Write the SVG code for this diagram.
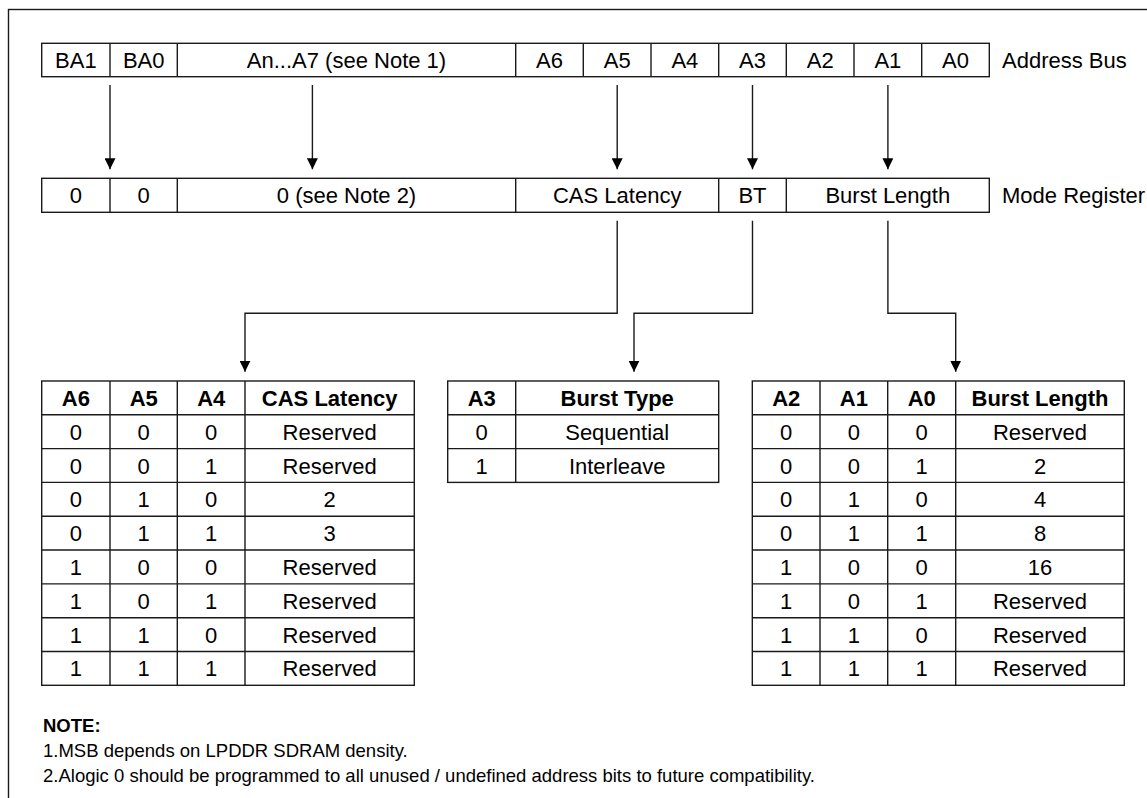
<svg xmlns="http://www.w3.org/2000/svg" width="1147" height="798" viewBox="0 0 1147 798">
<style>
.ln{fill:none;stroke:#1a1a1a;stroke-width:1.4}
.cell{fill:#fff;stroke:#1a1a1a;stroke-width:1.4}
.t{font-family:"Liberation Sans",Arial,Helvetica,sans-serif;font-size:22px;fill:#000;text-anchor:middle}
.b{font-weight:bold}
.lab{font-family:"Liberation Sans",Arial,Helvetica,sans-serif;font-size:22px;fill:#000}
.note{font-family:"Liberation Sans",Arial,Helvetica,sans-serif;font-size:18.5px;fill:#000}
</style>
<defs>
<marker id="ah" markerUnits="userSpaceOnUse" markerWidth="11" markerHeight="11" refX="11" refY="5.5" orient="auto" viewBox="0 0 11 11">
<path d="M0,0 L11,5.5 L0,11 z" fill="#000"/>
</marker>
</defs>
<rect x="0" y="0" width="1147" height="798" fill="#fff"/>
<rect x="8.5" y="9.5" width="1160" height="820" class="ln"/>

<g id="address-bus">
<rect x="41.7" y="43.3" width="947.6" height="33.4" class="cell"/>
<path class="ln" d="M110,43.3V76.7M177.3,43.3V76.7M515.7,43.3V76.7M583.3,43.3V76.7M651,43.3V76.7M718.7,43.3V76.7M786.3,43.3V76.7M854,43.3V76.7M921.7,43.3V76.7"/>
<text class="t" x="75.9" y="68">BA1</text>
<text class="t" x="143.7" y="68">BA0</text>
<text class="t" x="346.5" y="68">An...A7 (see Note 1)</text>
<text class="t" x="549.5" y="68">A6</text>
<text class="t" x="617.2" y="68">A5</text>
<text class="t" x="684.9" y="68">A4</text>
<text class="t" x="752.5" y="68">A3</text>
<text class="t" x="820.2" y="68">A2</text>
<text class="t" x="887.9" y="68">A1</text>
<text class="t" x="955.5" y="68">A0</text>
<text class="lab" x="1002" y="68">Address Bus</text>
</g>

<g id="mode-register">
<rect x="41.7" y="178.3" width="947.6" height="34" class="cell"/>
<path class="ln" d="M110,178.3V212.3M177.3,178.3V212.3M515.7,178.3V212.3M718.7,178.3V212.3M786.3,178.3V212.3"/>
<text class="t" x="75.9" y="203.3">0</text>
<text class="t" x="143.7" y="203.3">0</text>
<text class="t" x="346.5" y="203.3">0 (see Note 2)</text>
<text class="t" x="617.2" y="203.3">CAS Latency</text>
<text class="t" x="752.5" y="203.3">BT</text>
<text class="t" x="887.8" y="203.3">Burst Length</text>
<text class="lab" x="1002" y="203.3">Mode Register</text>
</g>

<g id="connectors">
<path class="ln" marker-end="url(#ah)" d="M110,85V169.3"/>
<path class="ln" marker-end="url(#ah)" d="M312.4,85V169.3"/>
<path class="ln" marker-end="url(#ah)" d="M617.2,85V169.3"/>
<path class="ln" marker-end="url(#ah)" d="M752.5,85V169.3"/>
<path class="ln" marker-end="url(#ah)" d="M887.9,85V169.3"/>
<path class="ln" marker-end="url(#ah)" d="M617.2,220.7V313.3H245V371.7"/>
<path class="ln" marker-end="url(#ah)" d="M752.5,220.7V313.3H634V371.7"/>
<path class="ln" marker-end="url(#ah)" d="M887.9,220.7V313.3H955.7V371.7"/>
</g>

<g id="cas-latency-table">
<rect x="41.7" y="381" width="372.6" height="304.3" class="cell"/>
<path class="ln" d="M110,381V685.3M177.3,381V685.3M245,381V685.3M41.7,414.8H414.3M41.7,448.6H414.3M41.7,482.4H414.3M41.7,516.2H414.3M41.7,550H414.3M41.7,583.9H414.3M41.7,617.7H414.3M41.7,651.5H414.3"/>
<g class="t">
<text class="b" x="75.9" y="405.9">A6</text><text class="b" x="143.7" y="405.9">A5</text><text class="b" x="211.2" y="405.9">A4</text><text class="b" x="329.7" y="405.9">CAS Latency</text>
<text x="75.9" y="439.7">0</text><text x="143.7" y="439.7">0</text><text x="211.2" y="439.7">0</text><text x="329.7" y="439.7">Reserved</text>
<text x="75.9" y="473.5">0</text><text x="143.7" y="473.5">0</text><text x="211.2" y="473.5">1</text><text x="329.7" y="473.5">Reserved</text>
<text x="75.9" y="507.3">0</text><text x="143.7" y="507.3">1</text><text x="211.2" y="507.3">0</text><text x="329.7" y="507.3">2</text>
<text x="75.9" y="541.1">0</text><text x="143.7" y="541.1">1</text><text x="211.2" y="541.1">1</text><text x="329.7" y="541.1">3</text>
<text x="75.9" y="574.9">1</text><text x="143.7" y="574.9">0</text><text x="211.2" y="574.9">0</text><text x="329.7" y="574.9">Reserved</text>
<text x="75.9" y="608.7">1</text><text x="143.7" y="608.7">0</text><text x="211.2" y="608.7">1</text><text x="329.7" y="608.7">Reserved</text>
<text x="75.9" y="642.5">1</text><text x="143.7" y="642.5">1</text><text x="211.2" y="642.5">0</text><text x="329.7" y="642.5">Reserved</text>
<text x="75.9" y="676.3">1</text><text x="143.7" y="676.3">1</text><text x="211.2" y="676.3">1</text><text x="329.7" y="676.3">Reserved</text>
</g>
</g>

<g id="burst-type-table">
<rect x="447.7" y="381" width="271" height="101.4" class="cell"/>
<path class="ln" d="M515.7,381V482.4M447.7,414.8H718.7M447.7,448.6H718.7"/>
<g class="t">
<text class="b" x="481.7" y="405.9">A3</text><text class="b" x="617.2" y="405.9">Burst Type</text>
<text x="481.7" y="439.7">0</text><text x="617.2" y="439.7">Sequential</text>
<text x="481.7" y="473.5">1</text><text x="617.2" y="473.5">Interleave</text>
</g>
</g>

<g id="burst-length-table">
<rect x="752.3" y="381" width="372" height="304.3" class="cell"/>
<path class="ln" d="M820,381V685.3M887.7,381V685.3M955.7,381V685.3M752.3,414.8H1124.3M752.3,448.6H1124.3M752.3,482.4H1124.3M752.3,516.2H1124.3M752.3,550H1124.3M752.3,583.9H1124.3M752.3,617.7H1124.3M752.3,651.5H1124.3"/>
<g class="t">
<text class="b" x="786.2" y="405.9">A2</text><text class="b" x="853.9" y="405.9">A1</text><text class="b" x="921.7" y="405.9">A0</text><text class="b" x="1040" y="405.9">Burst Length</text>
<text x="786.2" y="439.7">0</text><text x="853.9" y="439.7">0</text><text x="921.7" y="439.7">0</text><text x="1040" y="439.7">Reserved</text>
<text x="786.2" y="473.5">0</text><text x="853.9" y="473.5">0</text><text x="921.7" y="473.5">1</text><text x="1040" y="473.5">2</text>
<text x="786.2" y="507.3">0</text><text x="853.9" y="507.3">1</text><text x="921.7" y="507.3">0</text><text x="1040" y="507.3">4</text>
<text x="786.2" y="541.1">0</text><text x="853.9" y="541.1">1</text><text x="921.7" y="541.1">1</text><text x="1040" y="541.1">8</text>
<text x="786.2" y="574.9">1</text><text x="853.9" y="574.9">0</text><text x="921.7" y="574.9">0</text><text x="1040" y="574.9">16</text>
<text x="786.2" y="608.7">1</text><text x="853.9" y="608.7">0</text><text x="921.7" y="608.7">1</text><text x="1040" y="608.7">Reserved</text>
<text x="786.2" y="642.5">1</text><text x="853.9" y="642.5">1</text><text x="921.7" y="642.5">0</text><text x="1040" y="642.5">Reserved</text>
<text x="786.2" y="676.3">1</text><text x="853.9" y="676.3">1</text><text x="921.7" y="676.3">1</text><text x="1040" y="676.3">Reserved</text>
</g>
</g>

<g id="notes">
<text class="note b" x="43" y="731.7">NOTE:</text>
<text class="note" x="43" y="756.7">1.MSB depends on LPDDR SDRAM density.</text>
<text class="note" x="43" y="781.7">2.Alogic 0 should be programmed to all unused / undefined address bits to future compatibility.</text>
</g>
</svg>
